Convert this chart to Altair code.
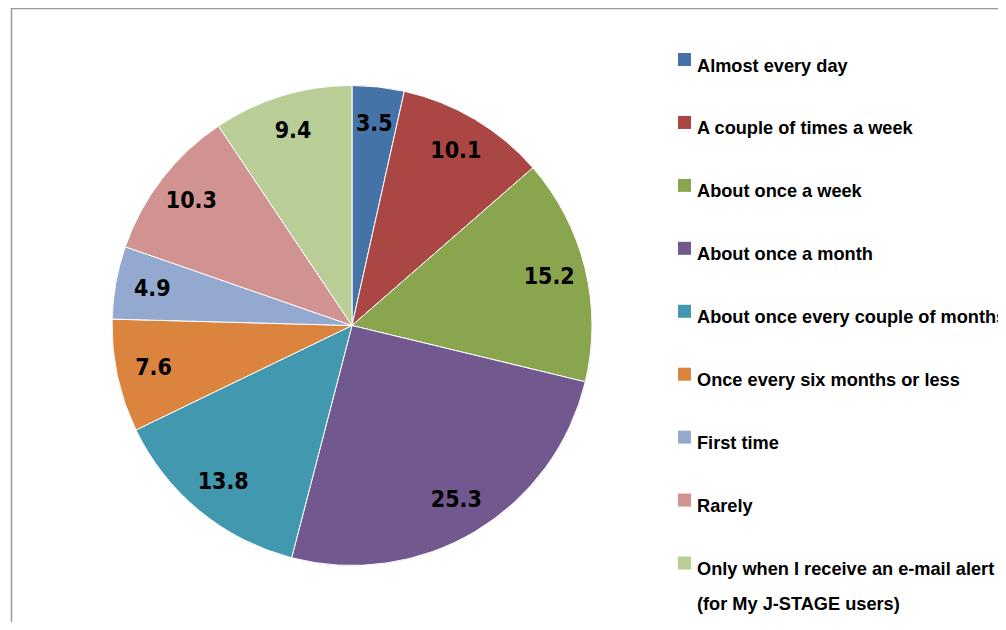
import altair as alt
import pandas as pd

categories = [
    "Almost every day",
    "A couple of times a week",
    "About once a week",
    "About once a month",
    "About once every couple of months",
    "Once every six months or less",
    "First time",
    "Rarely",
    "Only when I receive an e-mail alert\n(for My J-STAGE users)",
]
values = [3.5, 10.1, 15.2, 25.3, 13.8, 7.6, 4.9, 10.3, 9.4]
colors = ["#4572A7", "#AA4643", "#89A54E", "#71588F", "#4198AF",
          "#DB843D", "#93A9CF", "#D19392", "#B9CD96"]

df = pd.DataFrame({
    "cat": categories,
    "value": values,
    "idx": list(range(len(categories))),
    "label": [f"{v:.1f}" for v in values],
})

CX, CY, R = 344, 317.5, 240

color = alt.Color("cat:N", scale=alt.Scale(domain=categories, range=colors), legend=None)
order = alt.Order("idx:Q")
base = alt.Chart(df)

arcs = base.mark_arc(outerRadius=R, stroke="white", strokeWidth=1).encode(
    theta=alt.Theta("value:Q", stack=True),
    color=color,
    order=order,
    x=alt.value(CX),
    y=alt.value(CY),
)

labels = base.mark_text(
    radius=203, font="DejaVu Sans Condensed", fontWeight="bold", fontSize=23,
    color="black", align="center", baseline="middle",
).encode(
    theta=alt.Theta("value:Q", stack=True),
    text="label:N",
    order=order,
    x=alt.value(CX),
    y=alt.value(CY),
)

yscale = alt.Scale(domain=categories, range=[51.5, 555], padding=0)

squares = base.mark_square(size=169, opacity=1).encode(
    x=alt.value(676.5),
    y=alt.Y("cat:N", scale=yscale, axis=None, sort=categories),
    color=color,
)

legend_text = base.mark_text(
    align="left", baseline="alphabetic", dy=12, lineBreak="\n", lineHeight=35,
    font="Liberation Sans", fontWeight="bold",
    fontSize=18.2, color="black",
).encode(
    x=alt.value(689),
    y=alt.Y("cat:N", scale=yscale, axis=None, sort=categories),
    text="cat:N",
)

frame_df = pd.DataFrame({"k": [0]})
top_line = alt.Chart(frame_df).mark_rule(color="#999999", strokeWidth=1.5).encode(
    x=alt.value(3), x2=alt.value(990), y=alt.value(0.5)
)
left_line = alt.Chart(frame_df).mark_rule(color="#999999", strokeWidth=1.5).encode(
    x=alt.value(3.5), y=alt.value(0), y2=alt.value(614)
)

chart = alt.layer(top_line, left_line, arcs, labels, squares, legend_text).properties(
    width=990, height=614, autosize=alt.AutoSizeParams(type="none"),
    padding=0,
).configure_view(stroke=None)

chart.save("out.html", embed_options={"renderer": "svg", "actions": False})
